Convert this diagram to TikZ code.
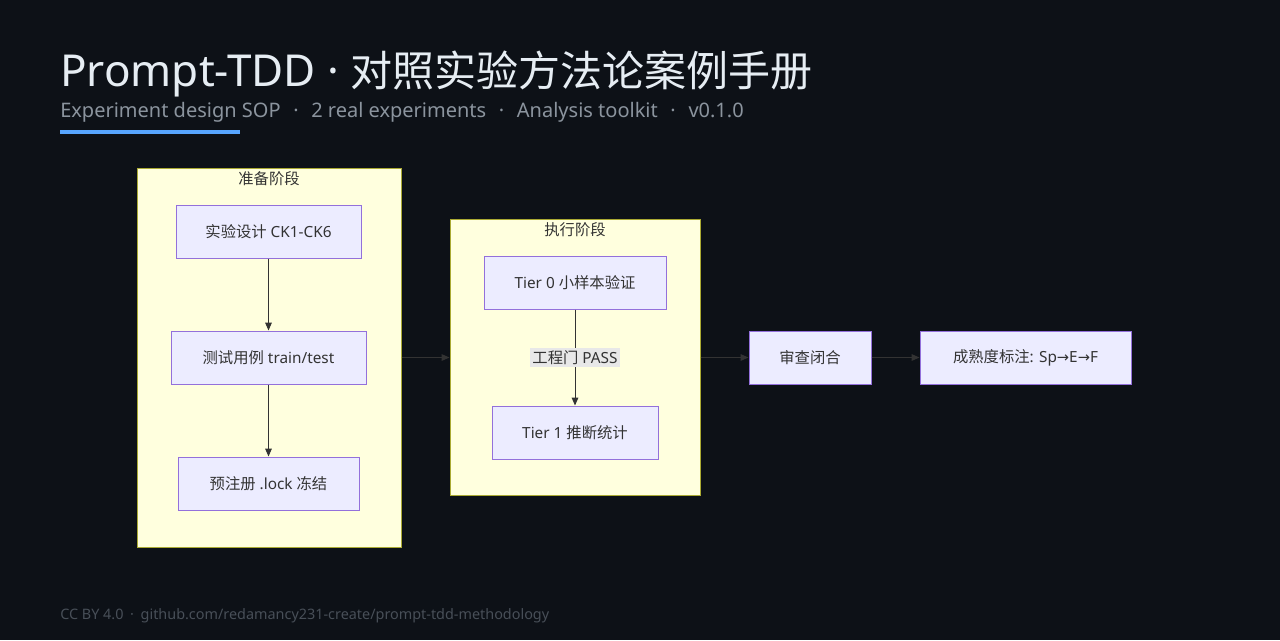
\documentclass[tikz,border=0pt]{standalone}
\usepackage{fontspec}
\setmainfont{Noto Sans}
\newfontfamily\cjk{Noto Sans CJK SC}
\newfontfamily\sym{DejaVu Sans}
\usetikzlibrary{arrows.meta}
\definecolor{bg}{HTML}{0D1117}
\definecolor{titlec}{HTML}{E6EDF3}
\definecolor{subc}{HTML}{8B949E}
\definecolor{footc}{HTML}{484F58}
\definecolor{barc}{HTML}{58A6FF}
\definecolor{clfill}{HTML}{FFFFDE}
\definecolor{clline}{HTML}{AAAA33}
\definecolor{ndfill}{HTML}{ECECFF}
\definecolor{ndline}{HTML}{9370DB}
\definecolor{txt}{HTML}{333333}
\definecolor{lblfill}{HTML}{E8E8E8}
\newcommand{\sep}{\hspace{9.5pt}·\hspace{9.5pt}}
\tikzset{
  cluster/.style={draw=clline, fill=clfill, line width=0.75pt, inner sep=0pt},
  stepbox/.style={draw=ndline, fill=ndfill, line width=0.75pt, text=txt, font=\fontsize{11.5pt}{13pt}\selectfont, inner sep=0pt, minimum height=39.75pt},
  cltitle/.style={text=txt, font=\fontsize{11.5pt}{13pt}\selectfont\cjk},
  flow/.style={draw=txt, line width=0.75pt, -{Triangle[length=6pt,width=5pt]}},
  outerflow/.style={draw=txt, line width=0.75pt, -{Triangle[length=6pt,width=5pt]}},
}
\begin{document}
\begin{tikzpicture}[x=0.75pt,y=-0.75pt]
\fill[bg] (0,0) rectangle (1280,640);
\useasboundingbox (0,0) rectangle (1280,640);
% header
\node[anchor=base west, inner sep=0pt, text=titlec, font=\fontsize{33pt}{38pt}\selectfont] (title) at (60,86) {Prompt-TDD · {\cjk\fontsize{31.5pt}{38pt}\selectfont 对照实验方法论案例手册}};
\node[anchor=base west, inner sep=0pt, text=subc, font=\fontsize{15pt}{18pt}\selectfont] (subtitle) at (60,117) {Experiment design SOP\sep 2 real experiments\sep Analysis toolkit\sep v0.1.0};
\fill[barc] (60,130) rectangle (240,134);
\node[anchor=base west, inner sep=0pt, text=footc, font=\fontsize{10.8pt}{12pt}\selectfont] (footer) at (60,619) {CC BY 4.0\hspace{5pt}·\hspace{5pt}github.com/redamancy231-create/prompt-tdd-methodology};
% clusters
\node[cluster, minimum width=198pt, minimum height=284.25pt] (c1) at (269,357.5) {};
\node[cltitle] (c1t) at (269,179) {准备阶段};
\node[cluster, minimum width=187.5pt, minimum height=207pt] (c2) at (575,357) {};
\node[cltitle] (c2t) at (575,230) {执行阶段};
% nodes
\node[stepbox, minimum width=138.75pt] (a) at (268.5,231.5) {{\cjk 实验设计} CK1-CK6};
\node[stepbox, minimum width=146.25pt] (b) at (268.5,357.5) {{\cjk 测试用例} train/test};
\node[stepbox, minimum width=135.75pt] (c) at (268.5,483.5) {{\cjk 预注册} .lock {\cjk 冻结}};
\node[stepbox, minimum width=136.5pt] (d) at (575,282.5) {Tier 0 {\cjk 小样本验证}};
\node[stepbox, minimum width=124.5pt] (e) at (575,432.5) {Tier 1 {\cjk 推断统计}};
\node[stepbox, minimum width=91.5pt] (f) at (810,357.5) {\cjk 审查闭合};
\node[stepbox, minimum width=158.25pt] (g) at (1025.5,357.5) {{\cjk 成熟度标注}: Sp{\sym\fontsize{11pt}{12pt}\selectfont →}E{\sym\fontsize{11pt}{12pt}\selectfont →}F};
% edges
\draw[flow] (a) -- (b);
\draw[flow] (b) -- (c);
\draw[flow] (d) -- node[fill=lblfill, text=txt, inner sep=1.5pt, font=\fontsize{11.5pt}{13pt}\selectfont] (lbl) {{\cjk 工程门} PASS} (e);
\draw[outerflow] (c1.east |- b) -- (c2.west |- b);
\draw[outerflow] (c2.east |- f) -- (f);
\draw[outerflow] (f) -- (g);
\end{tikzpicture}
\end{document}
